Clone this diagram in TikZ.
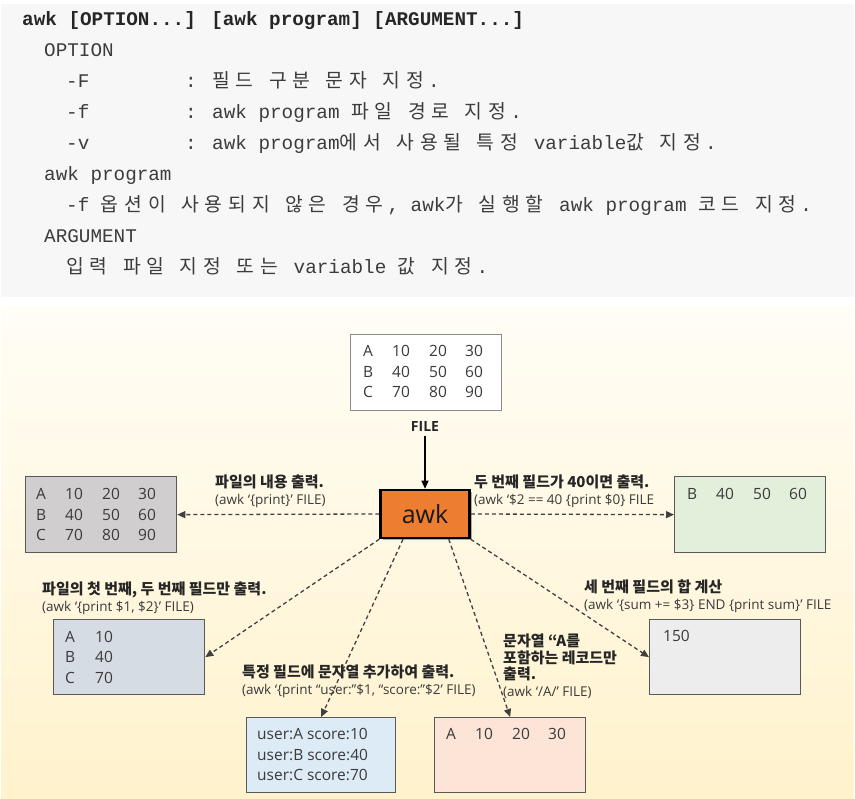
\documentclass[tikz,border=0pt]{standalone}
\usepackage{fontspec}
\usetikzlibrary{arrows.meta,calc,shadows,positioning}

\setmainfont{Open Sans}
\newfontfamily\krsans{Noto Sans CJK KR}
\newfontfamily\codefont{Liberation Mono}
\newfontfamily\krcode[LetterSpace=30]{Noto Sans CJK KR}
\newcommand{\kr}[1]{{\krcode #1}\kern4pt\relax}
\newcommand{\krhead}[1]{{\krsans\bfseries\fontsize{15}{16.5}\selectfont\color{headtext}#1}}
\newcommand{\datarow}[4]{\makebox[29pt][l]{#1}\makebox[37pt][l]{#2}\makebox[36pt][l]{#3}#4}

\definecolor{panelgray}{HTML}{F7F7F7}
\definecolor{codetext}{HTML}{3C3C3C}
\definecolor{headtext}{HTML}{262626}
\definecolor{txtgray}{HTML}{3A3A3A}
\definecolor{linegray}{HTML}{404040}
\definecolor{boxedge}{HTML}{595959}
\definecolor{awkorange}{HTML}{ED7D31}
\definecolor{cellgray}{HTML}{D0CECE}
\definecolor{cellgreen}{HTML}{E2EFDA}
\definecolor{cellslate}{HTML}{D6DCE4}
\definecolor{cellblue}{HTML}{DDEBF7}
\definecolor{cellpeach}{HTML}{FCE4D6}
\definecolor{celllight}{HTML}{EDEDED}

\begin{document}
\begin{tikzpicture}[x=1pt, y=-1pt,
    code/.style={anchor=base west, inner sep=0pt, text=codetext, font=\codefont\fontsize{19.3}{23}\selectfont},
    databox/.style={rectangle, draw=boxedge, line width=1.3pt, anchor=north west, minimum width=151pt, minimum height=76pt, inner sep=0pt},
    celltext/.style={anchor=base west, inner sep=0pt, text=txtgray, font=\fontsize{15.5}{20.5}\selectfont},
    note/.style={anchor=north west, inner sep=0pt, align=left, text=txtgray, font=\fontsize{13.5}{16.5}\selectfont},
    line/.style={draw=linegray, line width=1.3pt, dash pattern=on 4pt off 3pt, -{Triangle[length=8pt,width=7pt]}}]

    \useasboundingbox (0,0) rectangle (855,799);

    % usage panel
    \fill[panelgray] (1,4) rectangle (854,297);
    \node[code, font=\codefont\bfseries\fontsize{19.3}{23}\selectfont, text=headtext] (usage) at (22,26) {awk [OPTION...] [awk program] [ARGUMENT...]};
    \node[code] (opt) at (44,57) {OPTION};
    \node[code] (optF) at (66,88) {-F};
    \node[code] (optFtxt) at (185,88) {: \kr{필드} \kr{구분} \kr{문자} \kr{지정}.};
    \node[code] (optf) at (66,119) {-f};
    \node[code] (optftxt) at (185,119) {: awk program \kr{파일} \kr{경로} \kr{지정}.};
    \node[code] (optv) at (66,150) {-v};
    \node[code] (optvtxt) at (185,150) {: awk program\kr{에서} \kr{사용될} \kr{특정} variable\kr{값} \kr{지정}.};
    \node[code] (prog) at (44,181) {awk program};
    \node[code] (progtxt) at (66,212) {-f \kr{옵션이} \kr{사용되지} \kr{않은} \kr{경우}, awk\kr{가} \kr{실행할} awk program \kr{코드} \kr{지정}.};
    \node[code] (arg) at (44,243) {ARGUMENT};
    \node[code] (argtxt) at (66,274) {\kr{입력} \kr{파일} \kr{지정} \kr{또는} variable \kr{값} \kr{지정}.};

    % diagram panel
    \shade[top color={rgb,255:red,255;green,253;blue,246}, bottom color={rgb,255:red,255;green,242;blue,204}] (1,307) rectangle (854,799);

    \node[databox, fill=white, draw=black!45, line width=1pt] (file) at (350,334) {};
    \node[font=\bfseries\fontsize{14}{16}\selectfont, text=black!85] (filelbl) at (425,427) {FILE};
    \node[rectangle, draw=black, line width=2.5pt, fill=awkorange, minimum width=89pt, minimum height=48pt,
          font=\fontsize{25}{30}\selectfont, text=black!90,
          drop shadow={shadow xshift=2pt, shadow yshift=-2pt, fill=black, opacity=0.3}] (awk) at (425,514) {awk};

    \node[databox, fill=cellgray] (out1) at (25,476) {};
    \node[databox, fill=cellgreen] (out2) at (674,476) {};
    \node[databox, fill=cellslate, minimum height=75pt] (out3) at (53,619) {};
    \node[databox, fill=celllight, minimum height=75pt] (out6) at (649,619) {};
    \node[databox, fill=cellblue, minimum width=149pt, minimum height=75pt] (out4) at (246,717) {};
    \node[databox, fill=cellpeach, minimum height=75pt] (out5) at (434,717) {};

    % box contents
    \node[celltext] (filetxt) at ([shift={(13,23)}]file.north west) {\begin{tabular}[t]{@{}l@{}}\datarow{A}{10}{20}{30}\\ \datarow{B}{40}{50}{60}\\ \datarow{C}{70}{80}{90}\end{tabular}};
    \node[celltext] (out1txt) at ([shift={(11,24)}]out1.north west) {\begin{tabular}[t]{@{}l@{}}\datarow{A}{10}{20}{30}\\ \datarow{B}{40}{50}{60}\\ \datarow{C}{70}{80}{90}\end{tabular}};
    \node[celltext] (out2txt) at ([shift={(13,24)}]out2.north west) {\datarow{B}{40}{50}{60}};
    \node[celltext] (out3txt) at ([shift={(12,23)}]out3.north west) {\begin{tabular}[t]{@{}l@{}}\makebox[30pt][l]{A}10\\ \makebox[30pt][l]{B}40\\ \makebox[30pt][l]{C}70\end{tabular}};
    \node[celltext] (out4txt) at ([shift={(11,22.5)}]out4.north west) {\begin{tabular}[t]{@{}l@{}}user:A score:10\\ user:B score:40\\ user:C score:70\end{tabular}};
    \node[celltext] (out5txt) at ([shift={(12,22.5)}]out5.north west) {\datarow{A}{10}{20}{30}};
    \node[celltext] (out6txt) at ([shift={(14,22.5)}]out6.north west) {150};

    % labels
    \node[note] (lbl1) at (215,475) {\krhead{파일의 내용 출력.}\\(awk ‘\{print\}’ FILE)};
    \node[note] (lbl2) at (474,475) {\krhead{두 번째 필드가 40이면 출력.}\\(awk ‘\$2 == 40 \{print \$0\} FILE};
    \node[note] (lbl3) at (42,582) {\krhead{파일의 첫 번째, 두 번째 필드만 출력.}\\(awk ‘\{print \$1, \$2\}’ FILE)};
    \node[note] (lbl6) at (584,580) {\krhead{세 번째 필드의 합 계산}\\(awk ‘\{sum += \$3\} END \{print sum\}’ FILE};
    \node[note] (lbl4) at (242,665) {\krhead{특정 필드에 문자열 추가하여 출력.}\\(awk ‘\{print “user:”\$1, “score:”\$2’ FILE)};
    \node[note] (lbl5) at (503,634) {\krhead{문자열 “A를}\\\krhead{포함하는 레코드만}\\\krhead{출력.}\\(awk ‘/A/’ FILE)};

    % connectors
    \draw[-{Triangle[length=8pt,width=7pt]}, line width=1.2pt] (filelbl.south) -- (awk.north);
    \path[line] (awk.west) -- (out1.east);
    \path[line] (awk.east) -- (out2.west);
    \path[line] (awk.south west) -- (out3.east);
    \path[line] ($(awk.south west)!0.26!(awk.south east)$) -- (out4.north);
    \path[line] ($(awk.south west)!0.76!(awk.south east)$) -- (out5.north);
    \path[line] (awk.south east) -- (out6.west);
\end{tikzpicture}
\end{document}
